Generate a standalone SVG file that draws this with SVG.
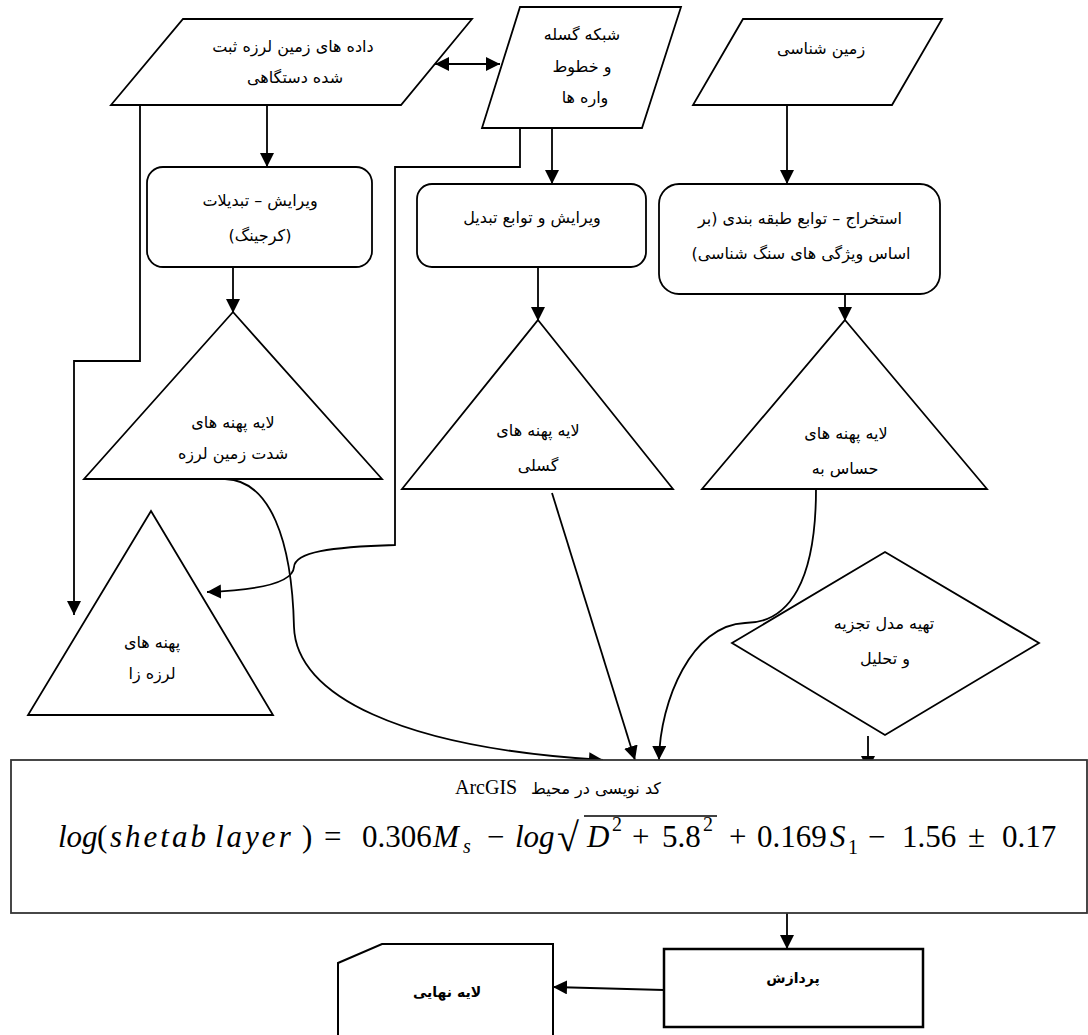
<svg xmlns="http://www.w3.org/2000/svg" width="1088" height="1035" viewBox="0 0 1088 1035">
<defs>
<marker id="ah" viewBox="0 0 14 14" refX="14" refY="7" markerWidth="14" markerHeight="14" markerUnits="userSpaceOnUse" orient="auto-start-reverse"><path d="M0,0 L14,7 L0,14 z" fill="#000"/></marker>
</defs>
<style>
.shape{fill:#fff;stroke:#000;stroke-width:1.8}
.fa{font-family:"DejaVu Sans",sans-serif;font-size:16px;fill:#000;text-anchor:middle;direction:rtl}
.fab{font-family:"DejaVu Sans",sans-serif;font-size:14px;font-weight:bold;fill:#000;text-anchor:middle;direction:rtl}
.conn{fill:none;stroke:#000;stroke-width:1.8}
.arr{marker-end:url(#ah)}
.eq{font-family:"Liberation Serif",serif;font-size:31px;fill:#000}
.it{font-style:italic}
.sm{font-size:20px}
</style>
<rect width="1088" height="1035" fill="#fff"/>

<g id="connectors">
<line class="conn" x1="435" y1="64" x2="500" y2="64" marker-start="url(#ah)" marker-end="url(#ah)"/>
<line class="conn arr" x1="267" y1="105" x2="267" y2="167"/>
<line class="conn arr" x1="552" y1="128" x2="552" y2="184"/>
<line class="conn arr" x1="787" y1="105" x2="787" y2="184"/>
<line class="conn arr" x1="233" y1="267" x2="233" y2="313"/>
<line class="conn arr" x1="538" y1="267" x2="538" y2="321"/>
<line class="conn arr" x1="845" y1="294" x2="845" y2="321"/>
<polyline class="conn arr" points="140,105 140,361 74,361 74,615"/>
<path class="conn arr" d="M520,128 L520,167 L395,167 L395,545 C330,547 295,552 294,567 C293,582 262,590 207,592"/>
<path class="conn arr" d="M225,479 C270,480 292,540 294,627 C296,695 400,748 603,760"/>
<line class="conn arr" x1="552" y1="493" x2="635" y2="760"/>
<path class="conn arr" d="M816,489 C816,580 790,623 745,623 C692,625 660,700 659,760"/>
<line class="conn arr" x1="868" y1="736" x2="868" y2="770"/>
<line class="conn arr" x1="787" y1="913" x2="787" y2="949"/>
<line class="conn arr" x1="664" y1="990" x2="553" y2="987"/>
</g>

<g id="node-seismic-data">
<polygon class="shape" points="183,19 472,19 401,105 111,105"/>
<text class="fa" x="293" y="52">داده های زمین لرزه ثبت</text>
<text class="fa" x="295" y="83">شده دستگاهی</text>
</g>

<g id="node-fault-network">
<polygon class="shape" points="520,7 681,7 642,128 482,128"/>
<text class="fa" x="582" y="40">شبکه گسله</text>
<text class="fa" x="582" y="72">و خطوط</text>
<text class="fa" x="585" y="103">واره ها</text>
</g>

<g id="node-geology">
<polygon class="shape" points="743,19 942,19 892,105 693,105"/>
<text class="fa" x="821" y="54">زمین شناسی</text>
</g>

<g id="node-edit-kriging">
<rect class="shape" x="147" y="167" width="225" height="100" rx="16" ry="16"/>
<text class="fa" x="260" y="206">ویرایش – تبدیلات</text>
<text class="fa" x="260" y="241">(کرجینگ)</text>
</g>

<g id="node-edit-transform">
<rect class="shape" x="417" y="184" width="229" height="83" rx="15" ry="15"/>
<text class="fa" x="532" y="223">ویرایش و توابع  تبدیل</text>
</g>

<g id="node-extract-classify">
<rect class="shape" x="659" y="184" width="281" height="110" rx="20" ry="20"/>
<text class="fa" x="800" y="224">استخراج – توابع طبقه بندی (بر</text>
<text class="fa" x="801" y="259">اساس ویژگی های سنگ شناسی)</text>
</g>

<g id="node-intensity-layer">
<polygon class="shape" points="233,312 382,479 84,479"/>
<text class="fa" x="233" y="428">لایه پهنه های</text>
<text class="fa" x="233" y="459">شدت زمین لرزه</text>
</g>

<g id="node-fault-layer">
<polygon class="shape" points="538,320 673,489 402,489"/>
<text class="fa" x="538" y="436">لایه پهنه های</text>
<text class="fa" x="538" y="471">گسلی</text>
</g>

<g id="node-sensitive-layer">
<polygon class="shape" points="845,320 987,489 702,489"/>
<text class="fa" x="846" y="439">لایه پهنه های</text>
<text class="fa" x="845" y="474">حساس به</text>
</g>

<g id="node-seismogenic-zones">
<polygon class="shape" points="151,511 273,715 28,715"/>
<text class="fa" x="152" y="648">پهنه های</text>
<text class="fa" x="152" y="679">لرزه زا</text>
</g>

<g id="node-analysis-model">
<polygon class="shape" points="885,552 1039,643 885,735 732,643"/>
<text class="fa" x="884" y="629">تهیه مدل تجزیه</text>
<text class="fa" x="885" y="664">و تحلیل</text>
</g>

<g id="node-arcgis-code">
<rect x="11" y="760" width="1076" height="153" fill="#fff" stroke="#333" stroke-width="1.8"/>
<text x="455" y="794" font-family="Liberation Serif, serif" font-size="20">ArcGIS</text>
<text class="fa" x="596" y="794">کد نویسی در محیط</text>
<text class="eq" y="847"><tspan x="58" class="it">log</tspan><tspan x="97">(</tspan><tspan x="110" class="it" letter-spacing="3">shetab</tspan><tspan x="215" class="it" letter-spacing="3">layer</tspan><tspan x="302">)</tspan><tspan x="324">=</tspan><tspan x="362">0.306</tspan><tspan x="433" class="it">M</tspan><tspan x="463" y="853" class="it sm">s</tspan><tspan x="487" y="847">−</tspan><tspan x="515" class="it">log</tspan><tspan x="557" y="851" font-size="40">√</tspan><tspan x="587" y="847" class="it">D</tspan><tspan x="612" y="831" class="sm">2</tspan><tspan x="632" y="847">+</tspan><tspan x="662">5.8</tspan><tspan x="703" y="831" class="sm">2</tspan><tspan x="729" y="847">+</tspan><tspan x="757">0.169</tspan><tspan x="830" class="it">S</tspan><tspan x="848" y="854" class="sm">1</tspan><tspan x="868" y="847">−</tspan><tspan x="902">1.56</tspan><tspan x="968">±</tspan><tspan x="1002">0.17</tspan></text>
<line x1="584" y1="816" x2="717" y2="816" stroke="#000" stroke-width="1.6"/>
</g>

<g id="node-process">
<rect x="664" y="949" width="259" height="78" fill="#fff" stroke="#000" stroke-width="2.5"/>
<text class="fab" x="793" y="983">پردازش</text>
</g>

<g id="node-final-layer">
<path d="M338,963 L382,944 L553,944 L553,1040 L338,1040 Z" fill="#fff" stroke="#000" stroke-width="2"/>
<text class="fab" x="447" y="997">لایه نهایی</text>
</g>
</svg>
